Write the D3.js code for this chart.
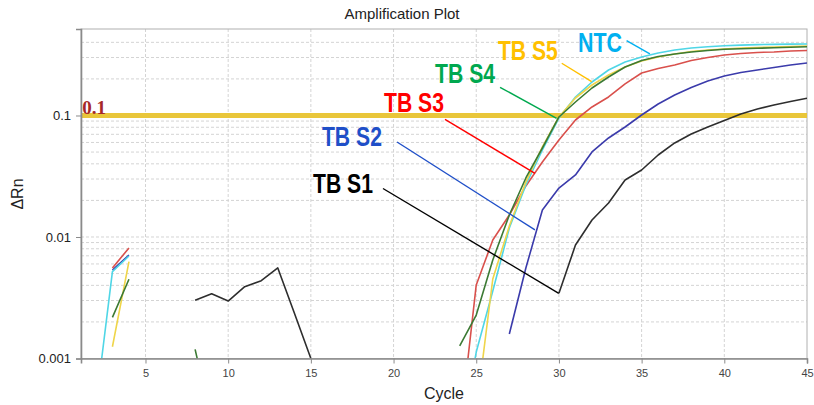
<!DOCTYPE html>
<html><head><meta charset="utf-8">
<script src="https://cdn.jsdelivr.net/npm/d3@7"></script>
<style>body{margin:0;background:#fff}svg{display:block}</style>
</head><body>
<svg id="chart" width="814" height="405"></svg>
<script>
(function(){
// ---------- DATA ----------
const cycles = [1,2,3,4,5,6,7,8,9,10,11,12,13,14,15,16,17,18,19,20,21,22,23,24,25,26,27,28,29,30,31,32,33,34,35,36,37,38,39,40,41,42,43,44,45];
const xTicks = [5,10,15,20,25,30,35,40,45];
const yTicks = [0.001,0.01,0.1];
const yTickLabels = ["0.001","0.01","0.1"];
const threshold = 0.1;

const tbS1 = [null,null,null,null,null,null,null,0.00301,0.00341,0.00297,0.0039,0.00437,0.00556,0.00237,0.001,
  null,null,null,null,null,null,null,null,null,null,null,null,null,null,
  0.00344,0.00859,0.0138,0.01905,0.02945,0.0356,0.0473,0.0594,0.0704,0.0804,0.0910,0.1029,0.1131,0.1220,0.1304,0.1386];
const tbS2 = [null,null,0.00535,0.00711,
  null,null,null,null,null,null,null,null,null,null,null,null,null,null,null,null,null,null,null,null,null,null,
  0.00159,0.00556,0.01667,0.0253,0.0324,0.0501,0.0653,0.0804,0.1009,0.1244,0.1475,0.170,0.1923,0.2114,0.2259,0.2367,0.2484,0.2606,0.2704];
const tbS3 = [null,null,0.00556,0.00812,
  null,null,null,null,null,null,null,null,null,null,null,null,null,null,null,null,null,null,null,
  0.00025,0.00403,0.00944,0.01517,0.0263,0.0414,0.0629,0.0918,0.1175,0.142,0.182,0.2237,0.2437,0.2606,0.2837,0.300,0.3148,0.3237,0.3301,0.3334,0.3397,0.3428];
const tbS4 = [null,null,0.00218,0.00449,null,null,null,0.00119,0.0003,
  null,null,null,null,null,null,null,null,null,null,null,null,null,null,
  0.00127,0.00228,0.00647,0.01517,0.0306,0.0540,0.0972,0.1291,0.1684,0.2074,0.2507,0.2837,0.306,0.3207,0.3334,0.3428,0.3508,0.354,0.3574,0.3607,0.3648,0.3683];
const tbS5 = [null,null,0.00125,0.00626,
  null,null,null,null,null,null,null,null,null,null,null,null,null,null,null,null,null,null,null,null,
  0.00037,0.00451,0.01233,0.0284,0.0551,0.0972,0.1393,0.1782,0.2154,0.2507,0.2809,0.3029,0.3207,0.3365,0.3459,0.3525,0.3594,0.3631,0.3665,0.3700,0.3733];
const ntc = [null,0.00041,0.00518,0.00697,
  null,null,null,null,null,null,null,null,null,null,null,null,null,null,null,null,null,null,null,
  0.0002,0.00113,0.00359,0.01186,0.0268,0.052,0.0953,0.142,0.1887,0.2367,0.2755,0.3029,0.3268,0.3459,0.3594,0.3675,0.3747,0.3791,0.3828,0.385,0.3865,0.3874];

// label names, and annotation anchors in data units [cycle, value]
const seriesNames = ["TB S1","TB S2","TB S3","TB S4","TB S5","NTC"];
const labelAt   = [[15.13,0.0230],[15.67,0.0561],[19.42,0.1069],[22.51,0.1851],[26.31,0.2862],[31.15,0.333]];
const pointerFrom = [[19.36,0.02506],[20.21,0.0605],[23.11,0.0930],[26.44,0.1706],[30.17,0.269],[34.09,0.4126]];
const pointerTo   = [[29.99,0.00344],[28.55,0.01143],[28.55,0.03344],[29.86,0.0948],[31.98,0.1897],[35.5,0.3208]];

// ---------- STYLE ----------
const lineColors  = ["#2e2e2e","#3b3bab","#d9504c","#3c7a34","#efd54a","#4fd6e6"];
const labelColors = ["#000000","#1f4fc8","#ff0000","#00a84f","#ffc000","#00b0f0"];
const drawOrder = [0,1,2,5,4,3];
const allSeries = [tbS1,tbS2,tbS3,tbS4,tbS5,ntc];

const pL = 81, pR = 807, pT = 29, pB = 358.5;

const svg = d3.select("#chart");
const x = d3.scaleLinear().domain([1.1,45]).range([pL,pR]);
const y = d3.scaleLog().domain([0.001,0.515]).range([pB,pT]);

// clip
svg.append("defs").append("clipPath").attr("id","plot")
  .append("rect").attr("x",pL).attr("y",pT).attr("width",pR-pL).attr("height",pB-pT);

// grid
const grid = svg.append("g");
grid.selectAll(".hg").data(y.ticks().filter(v=>v>0.001 && v<0.5))
  .join("line").attr("x1",pL).attr("x2",pR)
  .attr("y1",d=>y(d)).attr("y2",d=>y(d))
  .attr("stroke","#d4d4d4").attr("stroke-width",1).attr("stroke-dasharray","3,2");
grid.selectAll(".vg").data(xTicks.filter(v=>v<45))
  .join("line").attr("y1",pT).attr("y2",pB)
  .attr("x1",d=>x(d)).attr("x2",d=>x(d))
  .attr("stroke","#d4d4d4").attr("stroke-width",1).attr("stroke-dasharray","3,2");

// frame
svg.append("rect").attr("x",pL).attr("y",pT).attr("width",pR-pL).attr("height",pB-pT)
  .attr("fill","none").attr("stroke","#b0b0b0").attr("stroke-width",1);

// threshold
svg.append("line").attr("x1",pL).attr("x2",pR).attr("y1",y(threshold)).attr("y2",y(threshold))
  .attr("stroke","#e9c63a").attr("stroke-width",5);
svg.append("text").attr("x",x(1.18)).attr("y",y(threshold)-1)
  .attr("font-family","'Liberation Serif','Times New Roman',serif").attr("font-weight","bold")
  .attr("font-size",19).attr("fill","#a52828").text("0.1");

// curves
const line = d3.line().defined(d=>d[1]!=null).x(d=>x(d[0])).y(d=>y(d[1]));
const curves = svg.append("g").attr("clip-path","url(#plot)");
drawOrder.forEach(i=>{
  const pts = cycles.map((c,k)=>[c, allSeries[i][k]]);
  curves.append("path").attr("d",line(pts)).attr("fill","none")
    .attr("stroke",lineColors[i]).attr("stroke-width",1.6).attr("stroke-linejoin","round");
});

// axes
const yAxis = svg.append("g").attr("transform",`translate(${pL},0)`)
  .call(d3.axisLeft(y).tickValues(yTicks).tickFormat((d,i)=>yTickLabels[i]).tickSize(5).tickPadding(5));
const xAxis = svg.append("g").attr("transform",`translate(0,${pB})`)
  .call(d3.axisBottom(x).tickValues(xTicks).tickFormat(d=>d).tickSize(5).tickPadding(6));
[yAxis,xAxis].forEach(a=>{
  a.select(".domain").attr("stroke","#8a8a8a").attr("stroke-width",1.6);
  a.selectAll(".tick line").attr("stroke","#8a8a8a");
});
yAxis.selectAll("text").attr("font-family","Arial,'Liberation Sans',sans-serif").attr("font-size",13).attr("fill","#222");
xAxis.selectAll("text").attr("font-family","Arial,'Liberation Sans',sans-serif").attr("font-size",11).attr("fill","#444");

// titles
svg.append("text").attr("x",402).attr("y",18.5).attr("text-anchor","middle")
  .attr("font-family","Arial,'Liberation Sans',sans-serif").attr("font-size",15).attr("fill","#222").text("Amplification Plot");
svg.append("text").attr("x",(pL+pR)/2).attr("y",399).attr("text-anchor","middle")
  .attr("font-family","Arial,'Liberation Sans',sans-serif").attr("font-size",16).attr("fill","#222").text("Cycle");
svg.append("text").attr("transform","translate(23,194) rotate(-90)").attr("text-anchor","middle")
  .attr("font-family","Arial,'Liberation Sans',sans-serif").attr("font-size",16).attr("fill","#222").text("ΔRn");

// annotations
const ann = svg.append("g");
seriesNames.forEach((n,i)=>{
  ann.append("line")
    .attr("x1",x(pointerFrom[i][0])).attr("y1",y(pointerFrom[i][1]))
    .attr("x2",x(pointerTo[i][0])).attr("y2",y(pointerTo[i][1]))
    .attr("stroke",labelColors[i]).attr("stroke-width",1.4);
  ann.append("text").attr("x",x(labelAt[i][0])).attr("y",y(labelAt[i][1]))
    .attr("font-family","'Liberation Sans Narrow','Arial Narrow',Arial,sans-serif")
    .attr("font-weight","bold").attr("font-size",27)
    .attr("textLength", n==="NTC"?44:60).attr("lengthAdjust","spacingAndGlyphs")
    .attr("fill",labelColors[i]).text(n);
});
})();
</script>
</body></html>
